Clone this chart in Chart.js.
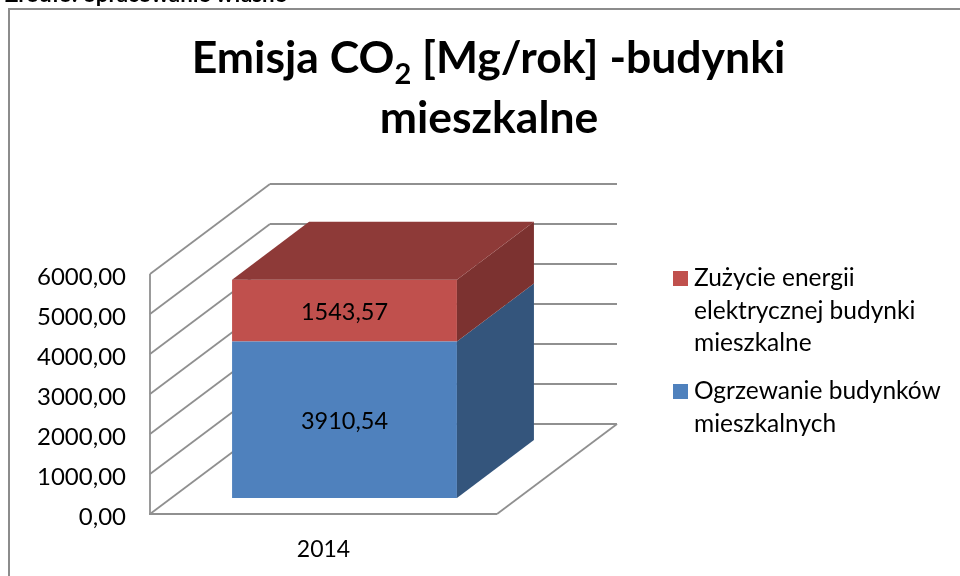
<!DOCTYPE html>
<html>
<head>
<meta charset="utf-8">
<style>
  html, body { margin: 0; padding: 0; background: #fff; overflow: hidden; }
  canvas { display: block; }
</style>
<script src="https://cdn.jsdelivr.net/npm/chart.js@4"></script>
</head>
<body>
<canvas id="chart" width="960" height="576"></canvas>
<script>
// Chart data
const categories = ['2014'];
const heatingValues = [3910.54];
const electricityValues = [1543.57];
const heatingLabel = ['Ogrzewanie budynków', 'mieszkalnych'];
const electricityLabel = ['Zużycie energii', 'elektrycznej budynki', 'mieszkalne'];
const yTicks = [0, 1000, 2000, 3000, 4000, 5000, 6000];

const FONT = 'Lato, "Open Sans", sans-serif';
const GRID = '#909090';

// Depth of the chart box and of the bar, in pixels
const WALL_DX = 120, WALL_DY = -90;
const BAR_DX = 77, BAR_DY = -58;
const BAR_SHIFT_X = 21, BAR_SHIFT_Y = -16;

function formatValue(v) {
  return v.toFixed(2).replace('.', ',');
}

function line(ctx, x1, y1, x2, y2) {
  ctx.beginPath();
  ctx.moveTo(x1, y1);
  ctx.lineTo(x2, y2);
  ctx.stroke();
}

function face(ctx, color, pts) {
  ctx.fillStyle = color;
  ctx.beginPath();
  pts.forEach((p, i) => i ? ctx.lineTo(p[0], p[1]) : ctx.moveTo(p[0], p[1]));
  ctx.closePath();
  ctx.fill();
}

// Walls and floor behind the bar, plus the outer frame and captions
const wallsPlugin = {
  id: 'walls',
  beforeDatasetsDraw(chart) {
    const ctx = chart.ctx;
    const { left, right } = chart.chartArea;
    const y = chart.scales.y;

    ctx.save();
    ctx.strokeStyle = '#8c8c8c';
    ctx.lineWidth = 2;
    ctx.beginPath();
    ctx.moveTo(960, 9);
    ctx.lineTo(9, 9);
    ctx.lineTo(9, 576);
    ctx.stroke();

    ctx.strokeStyle = GRID;
    ctx.lineWidth = 1.8;
    yTicks.forEach(t => {
      const py = y.getPixelForValue(t);
      line(ctx, left, py, left + WALL_DX, py + WALL_DY);
      line(ctx, left + WALL_DX, py + WALL_DY, right + WALL_DX, py + WALL_DY);
    });
    const y0 = y.getPixelForValue(0);
    line(ctx, left, y.getPixelForValue(6000), left, y0);
    line(ctx, left - 1, y0, right, y0);
    line(ctx, right, y0, right + WALL_DX, y0 + WALL_DY);
    ctx.restore();

    // Bars are pushed into the box by this offset
    ctx.save();
    ctx.translate(BAR_SHIFT_X, BAR_SHIFT_Y);
  },
  afterDatasetsDraw(chart) {
    const ctx = chart.ctx;
    const metas = [chart.getDatasetMeta(0), chart.getDatasetMeta(1)];
    const sideColors = ['#34557C', '#7C3230'];
    const topColor = '#8E3A38';

    metas.forEach((meta, i) => {
      const bar = meta.data[0];
      const x2 = bar.x + bar.width / 2;
      face(ctx, sideColors[i], [
        [x2, bar.y], [x2 + BAR_DX, bar.y + BAR_DY],
        [x2 + BAR_DX, bar.base + BAR_DY], [x2, bar.base]
      ]);
    });
    const top = metas[1].data[0];
    const x1 = top.x - top.width / 2;
    const x2 = top.x + top.width / 2;
    face(ctx, topColor, [
      [x1, top.y], [x1 + BAR_DX, top.y + BAR_DY],
      [x2 + BAR_DX, top.y + BAR_DY], [x2, top.y]
    ]);

    // Data labels in the middle of each front face
    ctx.fillStyle = '#000';
    ctx.font = '23.5px ' + FONT;
    ctx.textAlign = 'center';
    ctx.textBaseline = 'middle';
    metas.forEach((meta, i) => {
      const bar = meta.data[0];
      const v = chart.data.datasets[i].data[0];
      ctx.fillText(formatValue(v), bar.x, (bar.y + bar.base) / 2 + 2);
    });
    ctx.restore();
  },
  afterDraw(chart) {
    const ctx = chart.ctx;
    ctx.save();
    ctx.fillStyle = '#000';
    ctx.textBaseline = 'alphabetic';

    // Source line, cut off by the top of the page
    ctx.textAlign = 'left';
    ctx.font = 'bold 22.3px ' + FONT;
    ctx.fillText('Źródło: opracowanie własne', 5, 2);

    // Title, with a real subscript
    const big = 'bold 44.5px ' + FONT;
    const small = 'bold 29px ' + FONT;
    const before = 'Emisja CO';
    const sub = '2';
    const after = ' [Mg/rok] -budynki';
    ctx.font = big;
    const w1 = ctx.measureText(before).width;
    const w3 = ctx.measureText(after).width;
    ctx.font = small;
    const w2 = ctx.measureText(sub).width;
    let x = 488.5 - (w1 + w2 + w3) / 2;
    ctx.font = big;
    ctx.fillText(before, x, 73);
    x += w1;
    ctx.font = small;
    ctx.fillText(sub, x, 84);
    x += w2;
    ctx.font = big;
    ctx.fillText(after, x, 73);
    ctx.textAlign = 'center';
    ctx.fillText('mieszkalne', 489, 133);

    // Legend, electricity first as in the picture
    const entries = [
      { lines: chart.data.datasets[1].label, color: chart.data.datasets[1].backgroundColor, boxY: 271, firstLine: 286 },
      { lines: chart.data.datasets[0].label, color: chart.data.datasets[0].backgroundColor, boxY: 384, firstLine: 399 }
    ];
    ctx.textAlign = 'left';
    ctx.font = '24.5px ' + FONT;
    entries.forEach(e => {
      ctx.fillStyle = e.color;
      ctx.fillRect(673, e.boxY, 15, 15);
      ctx.fillStyle = '#000';
      e.lines.forEach((t, i) => ctx.fillText(t, 694, e.firstLine + i * 32.7));
    });
    ctx.restore();
  }
};

new Chart(document.getElementById('chart'), {
  type: 'bar',
  data: {
    labels: categories,
    datasets: [
      { label: heatingLabel, data: heatingValues, backgroundColor: '#4F81BD', borderWidth: 0 },
      { label: electricityLabel, data: electricityValues, backgroundColor: '#C0504D', borderWidth: 0 }
    ]
  },
  options: {
    responsive: false,
    animation: false,
    layout: { padding: { left: 0, top: 274, right: 463, bottom: 0 } },
    datasets: { bar: { barPercentage: 0.648, categoryPercentage: 1 } },
    plugins: { legend: { display: false }, title: { display: false }, tooltip: { enabled: false } },
    scales: {
      x: {
        stacked: true,
        grid: { display: false },
        border: { display: false },
        afterFit(scale) { scale.height = 62; },
        ticks: { color: '#000', padding: 14, font: { family: FONT, size: 23 } }
      },
      y: {
        stacked: true,
        min: 0,
        max: 6000,
        grid: { display: false },
        border: { display: false },
        afterFit(scale) { scale.width = 150; },
        ticks: {
          stepSize: 1000,
          color: '#000',
          padding: 16,
          labelOffset: 3,
          font: { family: FONT, size: 24 },
          callback: v => formatValue(v)
        }
      }
    }
  },
  plugins: [wallsPlugin]
});
</script>
</body>
</html>
